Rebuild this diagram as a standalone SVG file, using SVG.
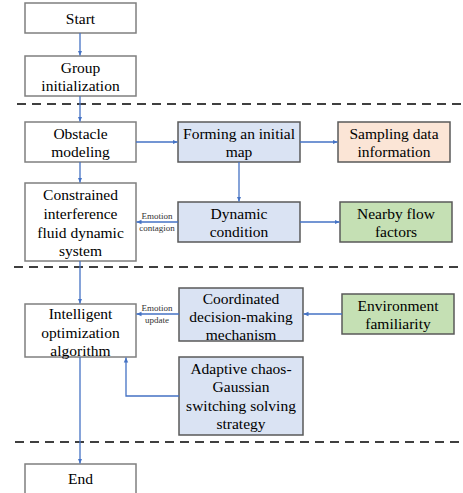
<svg xmlns="http://www.w3.org/2000/svg" width="463" height="493" viewBox="0 0 463 493">
<defs>
<marker id="ah" markerWidth="6" markerHeight="6" refX="5" refY="3" orient="auto" markerUnits="userSpaceOnUse">
<path d="M0,0.8 L5,3 L0,5.2 Z" fill="#4472C4"/>
</marker>
<style>
.box{stroke:#7f7f7f;stroke-width:1.5;fill:#ffffff}
.blue{fill:#dae3f3;stroke:#595959}
.peach{fill:#fbe5d6;stroke:#595959}
.green{fill:#c5e0b4;stroke:#595959}
text{fill:#000;text-anchor:middle}
.t{font-size:15.5px}
.s{font-size:9px;fill:#333}
.c{stroke:#4472C4;stroke-width:1.3;fill:none;marker-end:url(#ah)}
.d{stroke:#000;stroke-width:1.5;stroke-dasharray:9,6}
</style>
</defs>
<g id="dividers">
<line class="d" x1="17" y1="104" x2="463" y2="104"/>
<line class="d" x1="14" y1="267" x2="463" y2="267"/>
<line class="d" x1="15" y1="442" x2="463" y2="442"/>
</g>
<g font-family="Liberation Serif, Tinos, DejaVu Serif, serif">
<g id="start"><rect class="box" x="25" y="3" width="111" height="30"/><text class="t" x="80.5" y="23.5">Start</text></g>
<g id="group"><rect class="box" x="25" y="56" width="111" height="40"/><text class="t" x="80.5" y="72.5">Group</text><text class="t" x="80.5" y="90.5">initialization</text></g>
<g id="obstacle"><rect class="box" x="25" y="122" width="111" height="40"/><text class="t" x="80.5" y="138.5">Obstacle</text><text class="t" x="80.5" y="156.5">modeling</text></g>
<g id="forming"><rect class="box blue" x="178" y="122" width="122" height="40"/><text class="t" x="239" y="138.5">Forming an initial</text><text class="t" x="239" y="156.5">map</text></g>
<g id="sampling"><rect class="box peach" x="338" y="122" width="112" height="40"/><text class="t" x="394" y="138.5">Sampling data</text><text class="t" x="394" y="156.5">information</text></g>
<g id="constrained"><rect class="box" x="25" y="183" width="111" height="78"/><text class="t" x="80.5" y="199.5">Constrained</text><text class="t" x="80.5" y="218.5">interference</text><text class="t" x="80.5" y="237.5">fluid dynamic</text><text class="t" x="80.5" y="255.5">system</text></g>
<g id="dynamic"><rect class="box blue" x="178" y="202" width="122" height="40"/><text class="t" x="239" y="218.5">Dynamic</text><text class="t" x="239" y="236.5">condition</text></g>
<g id="nearby"><rect class="box green" x="340" y="202" width="112" height="40"/><text class="t" x="396" y="218.5">Nearby flow</text><text class="t" x="396" y="236.5">factors</text></g>
<g id="intelligent"><rect class="box" x="25" y="304" width="111" height="53"/><text class="t" x="80.5" y="318.5">Intelligent</text><text class="t" x="80.5" y="337.5">optimization</text><text class="t" x="80.5" y="355.5">algorithm</text></g>
<g id="coordinated"><rect class="box blue" x="179" y="288" width="124" height="53"/><text class="t" x="241" y="303.5">Coordinated</text><text class="t" x="241" y="321.5">decision-making</text><text class="t" x="241" y="339.5">mechanism</text></g>
<g id="environment"><rect class="box green" x="342" y="294" width="112" height="40"/><text class="t" x="398" y="310.5">Environment</text><text class="t" x="398" y="328.5">familiarity</text></g>
<g id="adaptive"><rect class="box blue" x="179" y="357" width="124" height="78"/><text class="t" x="241" y="373.5">Adaptive chaos-</text><text class="t" x="241" y="391.5">Gaussian</text><text class="t" x="241" y="410.5">switching solving</text><text class="t" x="241" y="428.5">strategy</text></g>
<g id="end"><rect class="box" x="25" y="464" width="111" height="40"/><text class="t" x="80.5" y="484">End</text></g>
<g id="connectors">
<line class="c" x1="80" y1="33" x2="80" y2="55.5"/>
<line class="c" x1="80" y1="96" x2="80" y2="121.5"/>
<line class="c" x1="136" y1="142" x2="177.5" y2="142"/>
<line class="c" x1="300" y1="142" x2="337.5" y2="142"/>
<line class="c" x1="239" y1="162" x2="239" y2="201.5"/>
<line class="c" x1="80" y1="162" x2="80" y2="182.5"/>
<line class="c" x1="178" y1="222" x2="136.5" y2="222"/>
<line class="c" x1="300" y1="222" x2="339.5" y2="222"/>
<line class="c" x1="80" y1="261" x2="80" y2="303.5"/>
<line class="c" x1="179" y1="314" x2="136.5" y2="314"/>
<line class="c" x1="342" y1="314" x2="303.5" y2="314"/>
<polyline class="c" points="179,396 126,396 126,357.5"/>
<line class="c" x1="80" y1="357" x2="80" y2="463.5"/>
<text class="s" x="157" y="219">Emotion</text>
<text class="s" x="157" y="231">contagion</text>
<text class="s" x="157" y="311">Emotion</text>
<text class="s" x="157" y="323">update</text>
</g>
</g>
</svg>
